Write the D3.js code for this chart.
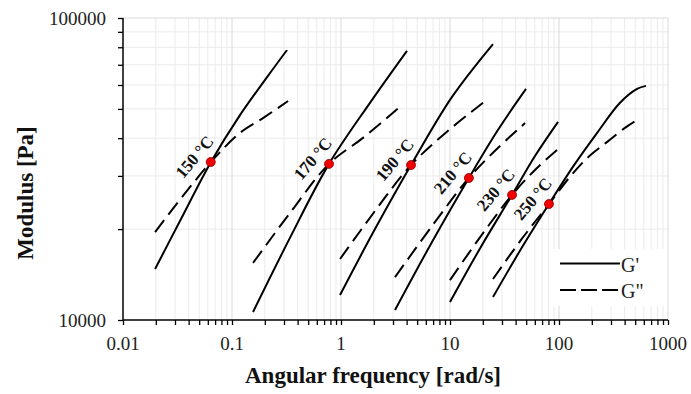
<!DOCTYPE html>
<html>
<head>
<meta charset="utf-8">
<script src="https://cdn.jsdelivr.net/npm/d3@7"></script>
<style>
  html, body { margin: 0; padding: 0; background: #fff; }
  svg { display: block; }
</style>
</head>
<body>
<svg id="chart" width="691" height="394"></svg>
<script>
// ---------------- data ----------------
const temperatures = ["150 °C", "170 °C", "190 °C", "210 °C", "230 °C", "250 °C"];

// storage modulus G' (frequency in rad/s, modulus in Pa)
const storageFreq = [
  [0.0197, 0.0334, 0.0641, 0.118, 0.320],
  [0.156, 0.340, 0.776, 1.845, 4.03],
  [0.98, 2.05, 4.39, 10.4, 24.8],
  [3.13, 6.84, 14.9, 27.5, 49.8],
  [10.0, 19.2, 37.1, 60.2, 98.0],
  [24.8, 44.8, 80.9, 134, 223, 363, 520, 628]
];
const storageModulus = [
  [14760, 21300, 33350, 47600, 78350],
  [10630, 18700, 32880, 52380, 77850],
  [12100, 20000, 32590, 54700, 82000],
  [10790, 18130, 29530, 42560, 58220],
  [11470, 17460, 25950, 34900, 45300],
  [11910, 17180, 24210, 32130, 41590, 52380, 58220, 59600]
];

// loss modulus G''
const lossFreq = [
  [0.0197, 0.0355, 0.0641, 0.118, 0.194, 0.327],
  [0.156, 0.340, 0.776, 1.59, 3.63],
  [0.98, 2.05, 4.39, 10.0, 22.3],
  [3.13, 6.84, 14.9, 27.5, 48.8],
  [10.0, 19.2, 37.1, 60.2, 95.9],
  [24.8, 44.8, 80.9, 126, 181, 275, 403, 542]
];
const lossModulus = [
  [19550, 25760, 33350, 41600, 46700, 53100],
  [15450, 22600, 32880, 40100, 51500],
  [15920, 22960, 32590, 42850, 53950],
  [13870, 20470, 29530, 37130, 44870],
  [13560, 18960, 25950, 31400, 36550],
  [13670, 18410, 24210, 29790, 34350, 38820, 43260, 46380]
];

// crossover points (G' = G'')
const crossoverFreq = [0.0638, 0.776, 4.39, 14.9, 37.1, 80.9];
const crossoverModulus = [33350, 32880, 32590, 29530, 25950, 24210];

const xTickValues = [0.01, 0.1, 1, 10, 100, 1000];
const xTickLabels = ["0.01", "0.1", "1", "10", "100", "1000"];
const yTickValues = [10000, 100000];
const yTickLabels = ["10000", "100000"];
const legendLabels = ["G'", "G\""];

// ---------------- layout ----------------
const svg = d3.select("#chart");
const plotLeft = 123, plotRight = 668, plotTop = 18, plotBottom = 320;
const serif = "'Liberation Serif', 'Times New Roman', serif";

const x = d3.scaleLog().domain([0.01, 1000]).range([plotLeft, plotRight]);
const y = d3.scaleLog().domain([10000, 100000]).range([plotBottom, plotTop]);

svg.append("rect").attr("width", 691).attr("height", 394).attr("fill", "#fff");

// minor ticks values
const xMinor = [];
for (let e = -2; e < 3; e++) for (let k = 2; k <= 9; k++) xMinor.push(k * Math.pow(10, e));
const yMinor = [];
for (let k = 2; k <= 9; k++) yMinor.push(10000 * k);

// gridlines
const grid = svg.append("g");
grid.selectAll("line.vx").data(xMinor).enter().append("line")
  .attr("x1", d => x(d)).attr("x2", d => x(d)).attr("y1", plotTop).attr("y2", plotBottom)
  .attr("stroke", "#ebebeb").attr("stroke-width", 1);
grid.selectAll("line.hy").data(yMinor).enter().append("line")
  .attr("x1", plotLeft).attr("x2", plotRight).attr("y1", d => y(d)).attr("y2", d => y(d))
  .attr("stroke", "#ebebeb").attr("stroke-width", 1);
grid.selectAll("line.vmaj").data(xTickValues.slice(1)).enter().append("line")
  .attr("x1", d => x(d)).attr("x2", d => x(d)).attr("y1", plotTop).attr("y2", plotBottom)
  .attr("stroke", "#d9d9d9").attr("stroke-width", 1);
grid.append("line").attr("x1", plotLeft).attr("x2", plotRight).attr("y1", y(100000)).attr("y2", y(100000))
  .attr("stroke", "#d9d9d9").attr("stroke-width", 1);

// legend background (covers gridlines)
svg.append("rect").attr("x", 553).attr("y", 249).attr("width", 114).attr("height", 57).attr("fill", "#fff");

// axes
const xAxis = d3.axisBottom(x).tickValues(xTickValues.concat(xMinor)).tickSize(5).tickFormat("");
const gx = svg.append("g").attr("transform", `translate(0,${plotBottom})`).call(xAxis);
const yAxis = d3.axisLeft(y).tickValues(yTickValues.concat(yMinor)).tickSize(5).tickFormat("");
const gy = svg.append("g").attr("transform", `translate(${plotLeft},0)`).call(yAxis);
[gx, gy].forEach(g => {
  g.select(".domain").attr("stroke", "#000").attr("stroke-width", 1.5);
  g.selectAll(".tick line").attr("stroke", "#000").attr("stroke-width", 1.3);
});
gx.select(".domain").attr("d", `M${plotLeft},0H${plotRight}`);
gy.select(".domain").attr("d", `M0,${plotBottom}V${plotTop}`);

// tick labels
svg.selectAll("text.xt").data(xTickValues).enter().append("text")
  .attr("x", d => x(d)).attr("y", 350)
  .attr("text-anchor", "middle").attr("font-family", serif).attr("font-size", 19).attr("fill", "#222")
  .text((d, i) => xTickLabels[i]);
svg.selectAll("text.yt").data(yTickValues).enter().append("text")
  .attr("x", 106).attr("y", d => y(d)).attr("dy", "0.35em")
  .attr("text-anchor", "end").attr("font-family", serif).attr("font-size", 19).attr("fill", "#222")
  .text((d, i) => yTickLabels[i]);

// axis titles
svg.append("text").attr("x", 373).attr("y", 383)
  .attr("text-anchor", "middle").attr("font-family", serif).attr("font-weight", "bold").attr("font-size", 23)
  .attr("fill", "#111").text("Angular frequency [rad/s]");
svg.append("text").attr("transform", "translate(33,193) rotate(-90)")
  .attr("text-anchor", "middle").attr("font-family", serif).attr("font-weight", "bold").attr("font-size", 23)
  .attr("fill", "#111").text("Modulus [Pa]");

// curves
const line = d3.line().x(d => x(d[0])).y(d => y(d[1])).curve(d3.curveCatmullRom.alpha(0.5));
const curves = svg.append("g").attr("fill", "none").attr("stroke", "#000").attr("stroke-width", 2);
temperatures.forEach((t, i) => {
  const sp = storageFreq[i].map((w, j) => [w, storageModulus[i][j]]);
  const lp = lossFreq[i].map((w, j) => [w, lossModulus[i][j]]);
  curves.append("path").attr("d", line(sp));
  curves.append("path").attr("d", line(lp)).attr("stroke-dasharray", "15,7");
});

// temperature labels
svg.selectAll("text.tl").data(temperatures).enter().append("text")
  .attr("transform", (d, i) => `translate(${x(crossoverFreq[i]) - 16},${y(crossoverModulus[i]) - 5}) rotate(-50)`)
  .attr("text-anchor", "middle").attr("dominant-baseline", "central")
  .attr("font-family", serif).attr("font-weight", "bold").attr("font-size", 17).attr("fill", "#111")
  .text(d => d);

// crossover dots
svg.selectAll("circle.cx").data(crossoverFreq).enter().append("circle")
  .attr("cx", d => x(d)).attr("cy", (d, i) => y(crossoverModulus[i])).attr("r", 4.5)
  .attr("fill", "#f00000").attr("stroke", "#8b0000").attr("stroke-width", 0.8);

// legend
const legend = svg.append("g");
legendLabels.forEach((lab, i) => {
  const ly = 263.5 + i * 26.5;
  legend.append("line").attr("x1", 560).attr("x2", 620).attr("y1", ly).attr("y2", ly)
    .attr("stroke", "#000").attr("stroke-width", 2)
    .attr("stroke-dasharray", i === 1 ? "16,5" : null);
  legend.append("text").attr("x", 621).attr("y", ly + 8)
    .attr("font-family", serif).attr("font-size", 20).attr("fill", "#222").text(lab);
});
</script>
</body>
</html>
